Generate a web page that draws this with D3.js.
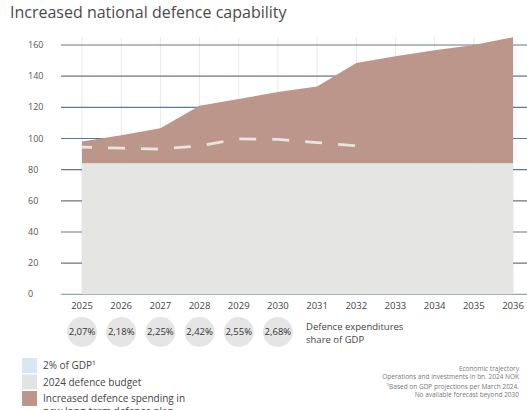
<!DOCTYPE html>
<html>
<head>
<meta charset="utf-8">
<script src="https://cdn.jsdelivr.net/npm/d3@7"></script>
<style>
  body { margin: 0; background: #fff; font-family: 'Open Sans', sans-serif; }
  svg { display: block; }
</style>
</head>
<body>
<svg id="drawing_region"></svg>
<script>
// years on the x axis
const years = [2025, 2026, 2027, 2028, 2029, 2030, 2031, 2032, 2033, 2034, 2035, 2036];
// total spending incl. increase (bn NOK)
const totalSpending = [98, 102, 106.5, 121, 125.3, 129.8, 133.4, 148.5, 152.7, 156.6, 160, 165];
// 2024 defence budget level
const baseBudget = 84;
// 2% of GDP line (only until 2032)
const gdpYears = [2025, 2026, 2027, 2028, 2029, 2030, 2031, 2032];
const gdpTwoPct = [94.5, 93.8, 93.2, 95.3, 99.8, 99.4, 97.4, 95.3];
// share of GDP circles
const shareYears = [2025, 2026, 2027, 2028, 2029, 2030];
const shareLabels = ['2,07%', '2,18%', '2,25%', '2,42%', '2,55%', '2,68%'];
const yTicks = [0, 20, 40, 60, 80, 100, 120, 140, 160];

const width = 527, height = 410;
const svg = d3.select('#drawing_region').attr('width', width).attr('height', height);

const xscale = d3.scaleLinear().domain([2025, 2036]).range([82, 513]);
const yscale = d3.scaleLinear().domain([0, 160]).range([294.3, 45]);

svg.append('text')
    .attr('x', 10).attr('y', 18)
    .attr('font-size', 16).attr('fill', '#4a4a4a')
    .text('Increased national defence capability');

// vertical gridlines
svg.append('g').selectAll('line')
    .data(years)
    .join('line')
    .attr('x1', d => xscale(d)).attr('x2', d => xscale(d))
    .attr('y1', 37).attr('y2', yscale(0))
    .attr('stroke', '#e6ebf0').attr('stroke-width', 1);

// horizontal gridlines
svg.append('g').selectAll('line')
    .data(yTicks)
    .join('line')
    .attr('x1', 61).attr('x2', width)
    .attr('y1', d => yscale(d)).attr('y2', d => yscale(d))
    .attr('stroke', d => d === 0 ? '#8fa6bd' : '#5f7a94').attr('stroke-width', 1.2);

// y tick labels
svg.append('g').selectAll('text')
    .data(yTicks)
    .join('text')
    .attr('x', 28).attr('y', d => yscale(d))
    .attr('dy', '0.35em')
    .attr('font-size', 9).attr('fill', '#555')
    .text(d => d);

const totalData = years.map((y, i) => ({ year: y, value: totalSpending[i] }));

// increased spending area
svg.append('path')
    .datum(totalData)
    .attr('fill', '#bc968b')
    .attr('d', d3.area()
        .x(d => xscale(d.year))
        .y0(yscale(baseBudget))
        .y1(d => yscale(d.value)));

// base budget area
svg.append('path')
    .datum(totalData)
    .attr('fill', '#e5e5e3')
    .attr('d', d3.area()
        .x(d => xscale(d.year))
        .y0(yscale(0))
        .y1(yscale(baseBudget)));

// 2% of GDP dashed line
svg.append('path')
    .datum(gdpYears.map((y, i) => ({ year: y, value: gdpTwoPct[i] })))
    .attr('fill', 'none')
    .attr('stroke', '#e8e4e2')
    .attr('stroke-width', 2.8)
    .attr('stroke-dasharray', '17,16')
    .attr('stroke-dashoffset', 7)
    .attr('d', d3.line().x(d => xscale(d.year)).y(d => yscale(d.value)));

// x labels
svg.append('g').selectAll('text')
    .data(years)
    .join('text')
    .attr('x', d => xscale(d)).attr('y', 309)
    .attr('text-anchor', 'middle')
    .attr('font-size', 9.5).attr('fill', '#444')
    .text(d => d);

// share of GDP circles
const shares = svg.append('g').selectAll('g')
    .data(shareYears)
    .join('g')
    .attr('transform', d => `translate(${xscale(d)}, 332)`);
shares.append('circle').attr('r', 15).attr('fill', '#e5e5e5');
shares.append('text')
    .attr('text-anchor', 'middle').attr('dy', '0.35em')
    .attr('font-size', 9.5).attr('fill', '#333')
    .text((d, i) => shareLabels[i]);

svg.append('g').selectAll('text')
    .data(['Defence expenditures', 'share of GDP'])
    .join('text')
    .attr('x', 306).attr('y', (d, i) => 329.5 + i * 13)
    .attr('font-size', 9.5).attr('fill', '#444')
    .text(d => d);

// legend
const legendItems = [
    { color: '#d8e7f1', label: '2% of GDP\u00B9' },
    { color: '#e3e3e3', label: '2024 defence budget' },
    { color: '#bc968b', label: 'Increased defence spending in' }
];
const legend = svg.append('g').selectAll('g')
    .data(legendItems)
    .join('g')
    .attr('transform', (d, i) => `translate(22, ${358 + i * 16.5})`);
legend.append('rect').attr('width', 15).attr('height', 15).attr('fill', d => d.color);
legend.append('text')
    .attr('x', 21).attr('y', 11)
    .attr('font-size', 10).attr('fill', '#444')
    .text(d => d.label);
svg.append('text')
    .attr('x', 43).attr('y', 415)
    .attr('font-size', 10).attr('fill', '#444')
    .text('new long-term defence plan');

// notes
const notes = [
    { text: 'Economic trajectory', y: 371 },
    { text: 'Operations and investments in bn. 2024 NOK', y: 379 },
    { text: '\u00B9Based on GDP projections per March 2024.', y: 389 },
    { text: 'No available forecast beyond 2030', y: 396.5 }
];
svg.append('g').selectAll('text')
    .data(notes)
    .join('text')
    .attr('x', 519).attr('y', d => d.y)
    .attr('text-anchor', 'end')
    .attr('font-size', 6.5).attr('fill', '#777')
    .text(d => d.text);
</script>
</body>
</html>
